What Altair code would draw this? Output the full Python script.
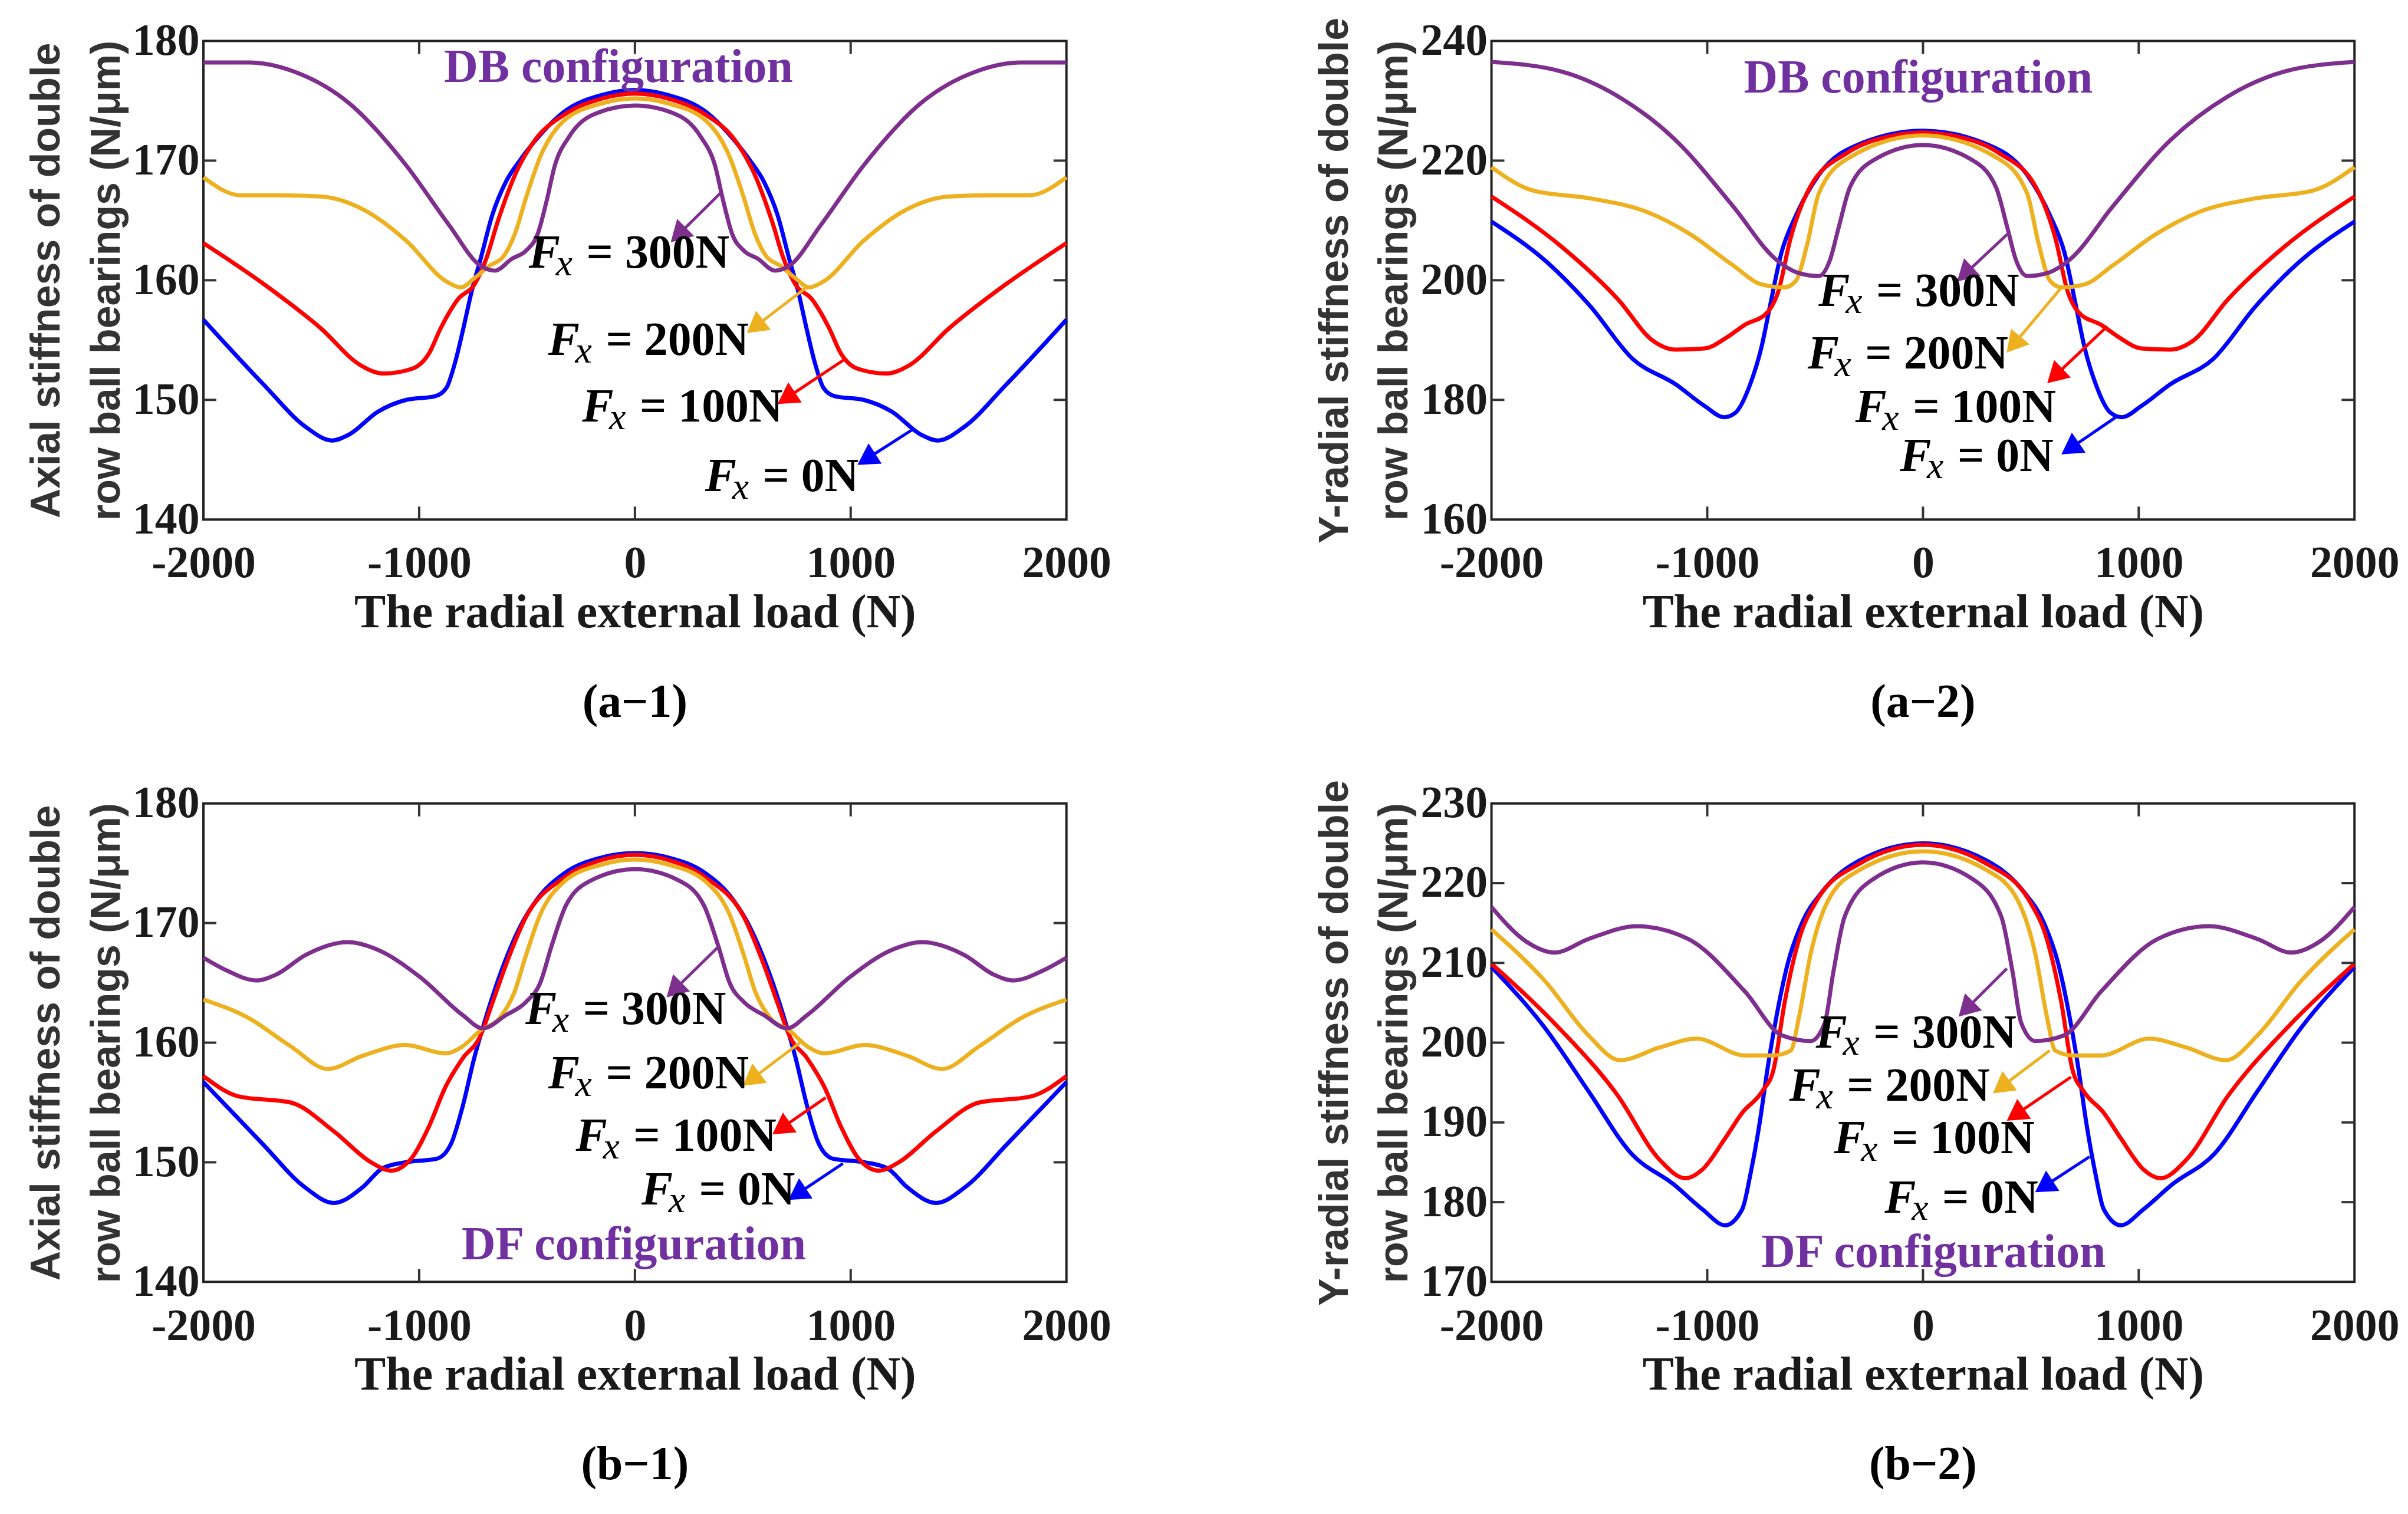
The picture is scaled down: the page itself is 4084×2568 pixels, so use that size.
import math
import altair as alt
import pandas as pd

# ---------------- data (half curves, x >= 0; curves are symmetric in x) -------------
SERIES = ["Fx = 0N", "Fx = 100N", "Fx = 200N", "Fx = 300N"]
LABEL_RIGHT = ["= 0N", "= 100N", "= 200N", "= 300N"]
COLORS = ["#0000FF", "#FF0000", "#EDB120", "#7E2F8E"]

# (a-1) DB configuration, axial stiffness
a1_blue_x = [0, 150, 331, 437, 530, 596, 662, 715, 755, 795, 834, 874, 927, 1060, 1192, 1325, 1404, 1523, 1722, 2000]
a1_blue_y = [175.9, 175.5, 174.05, 172.2, 170.1, 168.3, 165.4, 161.8, 159.2, 156.0, 153.1, 151.0, 150.3, 150.0, 149.0, 147.1, 146.6, 147.7, 151.3, 156.7]
a1_red_x = [0, 150, 331, 464, 556, 636, 689, 742, 821, 900, 954, 1033, 1166, 1272, 1457, 1722, 2000]
a1_red_y = [175.6, 175.2, 173.8, 171.7, 168.8, 164.9, 161.8, 159.7, 158.4, 156.0, 153.9, 152.6, 152.2, 152.9, 156.0, 159.7, 163.1]
a1_yel_x = [0, 150, 331, 437, 503, 556, 609, 675, 742, 808, 874, 1060, 1258, 1457, 1656, 1828, 2000]
a1_yel_y = [175.2, 174.8, 173.3, 170.4, 167.0, 163.9, 162.0, 161.2, 160.2, 159.4, 159.9, 163.3, 165.9, 167.0, 167.1, 167.1, 168.6]
a1_pur_x = [0, 199, 305, 371, 411, 450, 503, 570, 649, 715, 861, 1060, 1325, 1589, 1788, 2000]
a1_pur_y = [174.6, 173.8, 172.0, 169.6, 166.5, 163.9, 162.5, 161.8, 160.8, 161.2, 164.6, 169.6, 174.8, 177.5, 178.2, 178.2]

# (a-2) DB configuration, Y-radial stiffness
a2_blue_x = [0, 285, 483, 589, 656, 709, 748, 801, 868, 921, 1013, 1146, 1344, 1543, 1742, 2000]
a2_blue_y = [225.0, 222.9, 217.6, 210.8, 204.6, 195.7, 188.9, 182.6, 177.9, 177.1, 179.0, 182.6, 186.8, 195.7, 203.0, 209.8]
a2_red_x = [0, 150, 351, 523, 616, 669, 722, 828, 907, 1013, 1146, 1252, 1411, 1675, 2000]
a2_red_y = [224.7, 224.1, 221.3, 215.6, 206.7, 198.3, 194.6, 192.5, 190.5, 188.6, 188.4, 189.9, 196.7, 205.6, 214.0]
a2_yel_x = [0, 351, 483, 536, 589, 642, 748, 881, 1079, 1278, 1543, 1808, 2000]
a2_yel_y = [224.2, 220.3, 214.5, 206.1, 199.9, 198.8, 199.3, 202.5, 207.7, 211.4, 213.7, 215.0, 218.9]
a2_pur_x = [0, 219, 338, 391, 430, 483, 576, 682, 881, 1146, 1411, 1675, 2000]
a2_pur_y = [222.6, 220.3, 215.6, 208.8, 203.5, 200.7, 201.2, 203.5, 212.4, 223.4, 230.7, 234.9, 236.5]

# (b-1) DF configuration, axial stiffness
b1_blue_x = [0, 150, 332, 440, 532, 625, 691, 745, 798, 851, 918, 1064, 1170, 1263, 1396, 1529, 1729, 2000]
b1_blue_y = [175.85, 175.5, 174.1, 172.3, 169.7, 165.7, 162.1, 158.7, 154.7, 151.6, 150.3, 150.0, 149.5, 147.9, 146.6, 147.9, 151.6, 156.7]
b1_red_x = [0, 150, 332, 505, 598, 665, 718, 798, 878, 957, 1037, 1130, 1223, 1396, 1596, 1835, 2000]
b1_red_y = [175.7, 175.3, 173.75, 170.5, 166.5, 163.1, 160.5, 158.7, 156.3, 152.9, 150.3, 149.3, 150.0, 152.6, 155.0, 155.5, 157.2]
b1_yel_x = [0, 150, 332, 439, 505, 559, 625, 718, 798, 878, 1064, 1263, 1423, 1596, 1795, 2000]
b1_yel_y = [175.3, 174.9, 173.4, 170.7, 167.3, 164.2, 162.1, 161.0, 159.7, 159.1, 159.8, 158.9, 157.8, 159.7, 162.1, 163.6]
b1_pur_x = [0, 199, 319, 386, 439, 505, 598, 705, 798, 997, 1197, 1330, 1529, 1662, 1755, 1888, 2000]
b1_pur_y = [174.5, 173.6, 171.5, 168.1, 165.0, 163.4, 162.3, 161.2, 162.3, 165.5, 167.8, 168.4, 167.3, 165.7, 165.2, 166.0, 167.1]

# (b-2) DF configuration, Y-radial stiffness
b2_blue_x = [0, 297, 468, 561, 627, 679, 719, 759, 798, 838, 917, 1022, 1154, 1352, 1550, 1748, 2000]
b2_blue_y = [225.0, 222.8, 218.9, 215.0, 209.9, 203.3, 197.0, 189.6, 183.75, 179.1, 177.1, 179.1, 182.2, 186.1, 193.9, 201.7, 209.5]
b2_red_x = [0, 297, 495, 574, 640, 693, 745, 838, 917, 1022, 1102, 1220, 1418, 1682, 2000]
b2_red_y = [224.8, 222.4, 217.7, 213.0, 205.2, 196.6, 193.9, 191.2, 188.0, 184.1, 183.0, 185.3, 193.5, 201.7, 209.9]
b2_yel_x = [0, 297, 442, 521, 574, 613, 693, 825, 1049, 1220, 1405, 1550, 1748, 2000]
b2_yel_y = [224.0, 221.6, 217.7, 211.1, 203.3, 199.0, 198.4, 198.4, 200.5, 199.4, 197.8, 200.9, 207.6, 214.2]
b2_pur_x = [0, 231, 363, 416, 455, 521, 653, 825, 1088, 1326, 1550, 1708, 1840, 2000]
b2_pur_y = [222.6, 220.5, 215.8, 208.75, 202.5, 200.2, 200.9, 206.4, 213.0, 214.6, 213.0, 211.3, 212.7, 217.0]

# arrows: (x on curve, y on curve, x head, y head) for 0N, 100N, 200N, 300N
a1_arrows = [(1285, 147.5, 1086, 145.2), (973, 153.4, 715, 150.3), (795, 159.4, 570, 156.3), (397, 167.3, 212, 164.0)]
a2_arrows = [(894, 177.1, 695, 172.2), (854, 192.3, 623, 184.4), (642, 198.8, 430, 189.7), (391, 207.7, 205, 201.4)]
b1_arrows = [(964, 149.9, 765, 147.5), (884, 155.4, 691, 153.0), (765, 160.0, 552, 157.1), (386, 168.0, 193, 164.6)]
b2_arrows = [(772, 185.7, 574, 182.2), (686, 195.7, 442, 191.2), (587, 199.0, 376, 194.7), (389, 209.3, 211, 204.5)]

# label anchors (left x, text centre y) for 0N, 100N, 200N, 300N
a1_labels = [(325, 143.7), (-245, 149.5), (-402, 155.1), (-492, 162.4)]
a2_labels = [(-107, 170.8), (-314, 178.9), (-535, 187.9), (-484, 198.4)]
b1_labels = [(30, 147.8), (-274, 152.3), (-402, 157.5), (-508, 162.9)]
b2_labels = [(-178, 180.7), (-413, 188.1), (-620, 194.7), (-497, 201.4)]

# ---------------- styling -------------
W, H = 1468, 814
SERIF = "Liberation Serif, Times New Roman, serif"
SANS = "Liberation Sans, Arial, sans-serif"
TXT = "#1a1a1a"
CONF_COLOR = "#7030A0"
X_TITLE = "The radial external load (N)"


def mirror(xs, ys):
    pts = {}
    for x, y in zip(xs, ys):
        pts[x] = y
        pts[-x] = y
    return sorted(pts.items())


def panel(curves, ydom, yvals, ytitle, conf_text, conf_pos, arrows, labels, caption):
    rows = []
    for name, (xs_, ys_) in zip(SERIES, curves):
        for x, y in mirror(xs_, ys_):
            rows.append({"x": x, "y": y, "s": name})
    df = pd.DataFrame(rows)

    yr = ydom[1] - ydom[0]
    arr_rows = []
    for name, (x1, y1, x2, y2) in zip(SERIES, arrows):
        dxp = (x2 - x1) * W / 4000.0
        dyp = -(y2 - y1) * H / yr
        ang = math.degrees(math.atan2(dxp, -dyp)) % 360
        arr_rows.append({"x1": x1, "y1": y1, "x2": x2, "y2": y2, "s": name, "ang": ang})
    adf = pd.DataFrame(arr_rows)

    lab_rows = []
    for name, rest, (lx, ly) in zip(SERIES, LABEL_RIGHT, labels):
        lab_rows.append({"lx": lx, "ly": ly, "rest": rest, "s": name})
    ldf = pd.DataFrame(lab_rows)

    xsc = alt.Scale(domain=[-2000, 2000], nice=False, zero=False)
    ysc = alt.Scale(domain=ydom, nice=False, zero=False)
    cs = alt.Scale(domain=SERIES, range=COLORS)

    xaxis = alt.Axis(
        values=[-2000, -1000, 0, 1000, 2000], labelExpr="datum.value + ''",
        ticks=False, domain=False, grid=False, labelFlush=False, labelOverlap=False, labelLimit=0,
        labelFont=SERIF, labelFontWeight="bold", labelFontSize=76, labelColor=TXT, labelPadding=38,
        titleFont=SERIF, titleFontWeight="bold",
        titleFontSize=80, titleColor=TXT, titlePadding=7,
    )
    yaxis = alt.Axis(
        values=yvals, ticks=False, domain=False, grid=False, labelFlush=False, labelOverlap=False,
        labelLimit=0,
        labelFont=SERIF, labelFontWeight="bold", labelFontSize=76, labelColor=TXT, labelPadding=7,
        titleFont=SANS, titleFontWeight="bold", titleFontSize=70, titleColor="#333333",
        titleLineHeight=102, titlePadding=7,
    )

    def X(f):
        return alt.X(f, scale=xsc, axis=xaxis, title=X_TITLE)

    def Y(f):
        return alt.Y(f, scale=ysc, axis=yaxis, title=ytitle)

    lines = alt.Chart(df).mark_line(strokeWidth=7, interpolate="monotone").encode(
        x=X("x:Q"), y=Y("y:Q"),
        color=alt.Color("s:N", scale=cs, legend=None),
        detail="s:N",
    )
    shafts = alt.Chart(adf).mark_rule(strokeWidth=5).encode(
        x=X("x1:Q"), y=Y("y1:Q"), x2="x2:Q", y2="y2:Q",
        color=alt.Color("s:N", scale=cs, legend=None),
    )
    heads = alt.Chart(adf).mark_point(shape="triangle", filled=True, size=1700, opacity=1).encode(
        x=X("x2:Q"), y=Y("y2:Q"),
        angle=alt.Angle("ang:Q", scale=None),
        color=alt.Color("s:N", scale=cs, legend=None),
    )
    lab_f = alt.Chart(ldf).mark_text(
        font=SERIF, fontSize=80, fontWeight="bold", fontStyle="italic", align="left",
        baseline="alphabetic", dy=27, color="black",
    ).encode(x=X("lx:Q"), y=Y("ly:Q"), text=alt.value("F"))
    lab_x = alt.Chart(ldf).mark_text(
        font=SERIF, fontSize=64, fontStyle="italic", align="left",
        baseline="alphabetic", dy=40, dx=46, color="black",
    ).encode(x=X("lx:Q"), y=Y("ly:Q"), text=alt.value("x"))
    lab_r = alt.Chart(ldf).mark_text(
        font=SERIF, fontSize=80, fontWeight="bold", align="left",
        baseline="alphabetic", dy=27, dx=98, color="black",
    ).encode(x=X("lx:Q"), y=Y("ly:Q"), text="rest:N")

    cdf = pd.DataFrame({"cx": [conf_pos[0]], "cy": [conf_pos[1]], "t": [conf_text]})
    conf = alt.Chart(cdf).mark_text(
        font=SERIF, fontSize=80, fontWeight="bold", align="center", baseline="alphabetic",
        dy=27, color=CONF_COLOR,
    ).encode(x=X("cx:Q"), y=Y("cy:Q"), text="t:N")

    # inward MATLAB-style ticks on all four sides
    xt = pd.DataFrame({"v": [-1000, 0, 1000]})
    yt = pd.DataFrame({"v": yvals[1:-1]})
    tb = alt.Chart(xt).mark_rule(strokeWidth=4, color="#333333").encode(
        x=X("v:Q"), y=alt.value(H), y2=alt.value(H - 22))
    tt = alt.Chart(xt).mark_rule(strokeWidth=4, color="#333333").encode(
        x=X("v:Q"), y=alt.value(0), y2=alt.value(22))
    tl = alt.Chart(yt).mark_rule(strokeWidth=4, color="#333333").encode(
        y=Y("v:Q"), x=alt.value(0), x2=alt.value(22))
    tr = alt.Chart(yt).mark_rule(strokeWidth=4, color="#333333").encode(
        y=Y("v:Q"), x=alt.value(W - 22), x2=alt.value(W))

    return alt.layer(lines, shafts, heads, lab_f, lab_x, lab_r, conf, tb, tt, tl, tr).properties(
        width=W, height=H,
        title=alt.TitleParams(text=caption, orient="bottom", anchor="middle", font=SERIF,
                              fontSize=80, fontWeight="bold", color="black", offset=74),
    )


axial_title = ["Axial stiffness of double", "row ball bearings (N/\u03bcm)"]
radial_title = ["Y-radial stiffness of double", "row ball bearings (N/\u03bcm)"]

p_a1 = panel([(a1_blue_x, a1_blue_y), (a1_red_x, a1_red_y), (a1_yel_x, a1_yel_y), (a1_pur_x, a1_pur_y)],
             [140, 180], [140, 150, 160, 170, 180], axial_title,
             "DB configuration", (-76, 177.9), a1_arrows, a1_labels, "(a\u22121)")
p_a2 = panel([(a2_blue_x, a2_blue_y), (a2_red_x, a2_red_y), (a2_yel_x, a2_yel_y), (a2_pur_x, a2_pur_y)],
             [160, 240], [160, 180, 200, 220, 240], radial_title,
             "DB configuration", (-22, 234.0), a2_arrows, a2_labels, "(a\u22122)")
p_b1 = panel([(b1_blue_x, b1_blue_y), (b1_red_x, b1_red_y), (b1_yel_x, b1_yel_y), (b1_pur_x, b1_pur_y)],
             [140, 180], [140, 150, 160, 170, 180], axial_title,
             "DF configuration", (-5, 143.2), b1_arrows, b1_labels, "(b\u22121)")
p_b2 = panel([(b2_blue_x, b2_blue_y), (b2_red_x, b2_red_y), (b2_yel_x, b2_yel_y), (b2_pur_x, b2_pur_y)],
             [170, 230], [170, 180, 190, 200, 210, 220, 230], radial_title,
             "DF configuration", (49, 173.9), b2_arrows, b2_labels, "(b\u22122)")

row1 = alt.hconcat(p_a1, p_a2, spacing=342)
row2 = alt.hconcat(p_b1, p_b2, spacing=342)
chart = alt.vconcat(row1, row2, spacing=86).properties(
    padding={"left": 35, "top": 15, "right": 5, "bottom": 5},
    background="white",
).configure_view(stroke="#222222", strokeWidth=4)

chart.save("out.html", embed_options={"renderer": "svg", "actions": False})
